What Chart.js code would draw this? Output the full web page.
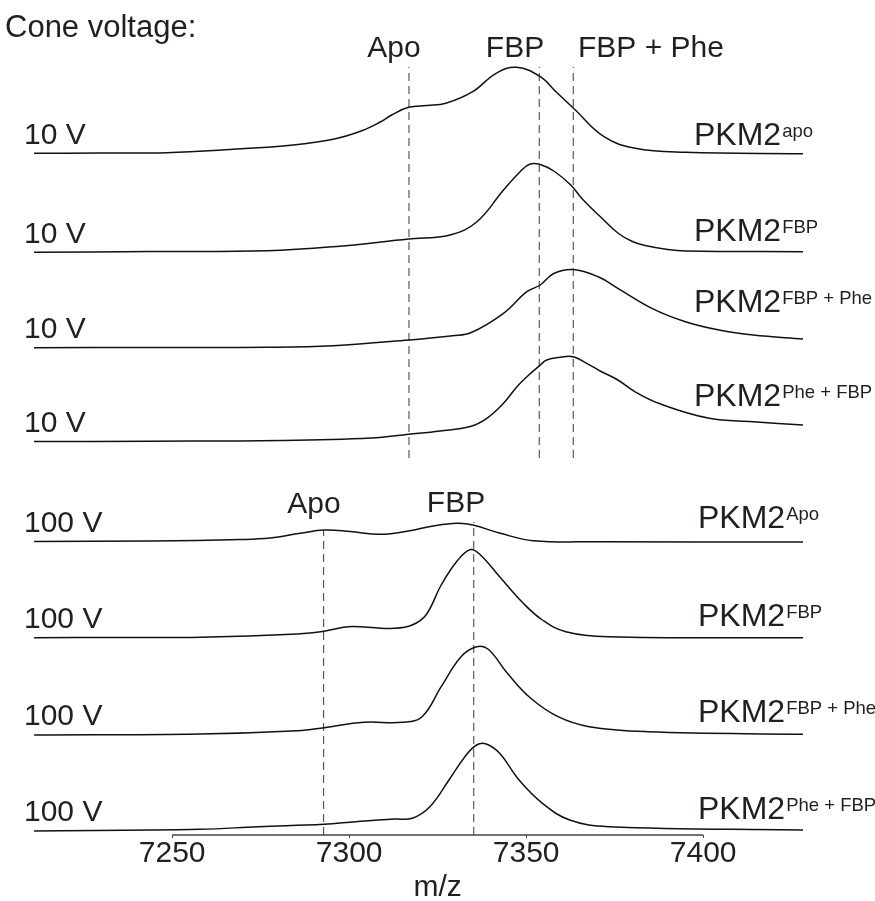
<!DOCTYPE html>
<html>
<head>
<meta charset="utf-8">
<title>PKM2 cone voltage spectra</title>
<script src="https://cdn.jsdelivr.net/npm/chart.js@4.4.1/dist/chart.umd.min.js"></script>
<style>
  html, body { margin: 0; padding: 0; background: #fff; }
  #wrap { width: 875px; height: 901px; position: relative; }
</style>
</head>
<body>
<div id="wrap"><canvas id="spectra"></canvas></div>
<script>
// m/z window and labelled ticks
var xMin = 7210.7, xMax = 7428.2;
var xTicks = [7250, 7300, 7350, 7400];

// 10 V spectra: m/z and relative intensity
var mzApo10 = [7211, 7229.7, 7248.5, 7266.4, 7284.2, 7295.8, 7303.4, 7308.8, 7312.0, 7316.8, 7322, 7327.3, 7334.9, 7341.5, 7347.3, 7354.0, 7358.5, 7363.6, 7372.0, 7380.8, 7394.9, 7428.2];
var intApo10 = [0.7, 1.0, 1.3, 4.5, 9, 15, 23, 32, 39, 46.7, 48.5, 50.7, 62.3, 80.7, 86.7, 77.3, 62, 45, 17.3, 5.7, 1.7, 0.3];

var mzFbp10 = [7211, 7243.8, 7276.8, 7295.5, 7316.8, 7328.5, 7336.1, 7343.6, 7348.3, 7351.1, 7354.0, 7358.0, 7362.6, 7366.0, 7370.9, 7375.9, 7380.0, 7383.6, 7390.0, 7395.0, 7428.2];
var intFbp10 = [0.2, 1, 1.8, 5.8, 13.5, 17.5, 30.8, 62.5, 80.8, 88.5, 88, 81, 67.5, 53, 36, 19.5, 11, 7, 3, 1.5, 0.8];

var mzFbpPhe10 = [7211, 7243.8, 7276.8, 7295.5, 7316.8, 7329.2, 7334.5, 7343.6, 7350.2, 7354.0, 7357.8, 7363.3, 7370.5, 7375.9, 7385.5, 7395.0, 7404.5, 7414.1, 7428.2];
var intFbpPhe10 = [0.3, 0.5, 0.7, 2.3, 8, 12.3, 15.5, 34.7, 56.3, 63, 74.5, 78.5, 71, 59.7, 39.7, 26.3, 18, 13, 9];

var mzPheFbp10 = [7211, 7243.8, 7280.5, 7306.2, 7316.8, 7325.7, 7334.2, 7338.9, 7343.6, 7347.4, 7350.2, 7354.0, 7355.8, 7359.6, 7363.3, 7367.1, 7370.9, 7375.9, 7380.7, 7387.4, 7401.7, 7414.1, 7428.2];
var intPheFbp10 = [0.5, 0.8, 1.5, 4, 7.7, 11, 15.5, 23.7, 38.7, 55.3, 65.3, 77, 82, 84.7, 85.3, 78.7, 71, 62, 50.3, 38.7, 23.7, 20.3, 17];

// 100 V spectra
var mzApo100 = [7211, 7243.8, 7269.2, 7277.7, 7286.2, 7292.9, 7300.3, 7308.8, 7317.2, 7323.7, 7330.5, 7335.0, 7342.7, 7352.0, 7370.9, 7428.2];
var intApo100 = [0.5, 1, 2.5, 4, 8.7, 12, 10.5, 7.7, 11.3, 16, 18.7, 17, 8.7, 1.3, 0.3, 0];

var mzFbp100 = [7211, 7235.3, 7257.9, 7285.4, 7292.9, 7299.7, 7305.2, 7312.9, 7317.8, 7321.7, 7326.0, 7330.5, 7334.3, 7337.1, 7342.5, 7349.2, 7354.6, 7361.2, 7373.3, 7428.2];
var intFbp100 = [0.3, 0.5, 0.7, 4, 6.7, 11.3, 10.7, 9.7, 13, 23, 53, 77, 88.5, 83, 61.3, 34.7, 18, 6.3, 1.3, 0.3];

var mzFbpPhe100 = [7211, 7257.9, 7285.4, 7292.9, 7304.1, 7315.1, 7320.6, 7326.0, 7331.6, 7336.0, 7339.3, 7344.7, 7351.3, 7359.0, 7367.8, 7384.3, 7428.2];
var intFbpPhe100 = [0, 1, 4.3, 7.3, 12.7, 12.7, 18.3, 48.3, 78.3, 88.3, 85.7, 61.7, 36.7, 18.3, 8.3, 3.3, 0.7];

var mzPheFbp100 = [7211, 7257.9, 7274.4, 7292.9, 7301.9, 7312.9, 7317.8, 7322.8, 7328.2, 7332.7, 7336.0, 7338.7, 7342.5, 7348.0, 7354.6, 7362.3, 7373.3, 7428.2];
var intPheFbp100 = [0, 1.7, 4.3, 6.7, 9.3, 12, 12.7, 24.3, 51, 74.3, 86, 87, 77.7, 51, 27.7, 11, 4.3, 1];

// trace order, top to bottom, and the intensity offset each one is stacked at
var traceMz = [mzApo10, mzFbp10, mzFbpPhe10, mzPheFbp10, mzApo100, mzFbp100, mzFbpPhe100, mzPheFbp100];
var traceInt = [intApo10, intFbp10, intFbpPhe10, intPheFbp10, intApo100, intFbp100, intFbpPhe100, intPheFbp100];
var stackOffset = [681, 582.5, 487, 393, 293, 197, 100, 4];
var coneVoltage = ['10 V', '10 V', '10 V', '10 V', '100 V', '100 V', '100 V', '100 V'];
var sampleName = ['PKM2', 'PKM2', 'PKM2', 'PKM2', 'PKM2', 'PKM2', 'PKM2', 'PKM2'];
var sampleSup = ['apo', 'FBP', 'FBP + Phe', 'Phe + FBP', 'Apo', 'FBP', 'FBP + Phe', 'Phe + FBP'];

// expected species masses marked with dashed guides
var guideMz10 = [7316.9, 7353.7, 7363.3];
var guideName10 = ['Apo', 'FBP', 'FBP + Phe'];
var guideMz100 = [7292.8, 7335.2];
var guideName100 = ['Apo', 'FBP'];
var guideSpan10 = [377, 768];
var guideTop100 = [305, 313];

var ink = '#231f20';
var fontFamily = '"Liberation Sans", Arial, Helvetica, sans-serif';

function toPoints(mz, inten, offset) {
  return mz.map(function (m, k) {
    return {x: m, y: offset + inten[k]};
  });
}

var datasets = [];

traceMz.forEach(function (mz, i) {
  datasets.push({
    data: toPoints(mz, traceInt[i], stackOffset[i]),
    borderColor: '#111',
    borderWidth: 1.5,
    pointRadius: 0,
    tension: 0.4,
    clip: false
  });
});

guideMz10.forEach(function (m) {
  datasets.push({
    data: [{x: m, y: guideSpan10[0]}, {x: m, y: guideSpan10[1]}],
    borderColor: '#3a3a3a',
    borderWidth: 1,
    borderDash: [8, 5],
    pointRadius: 0,
    clip: false
  });
});

guideMz100.forEach(function (m, i) {
  datasets.push({
    data: [{x: m, y: 0}, {x: m, y: guideTop100[i]}],
    borderColor: '#3a3a3a',
    borderWidth: 1,
    borderDash: [8, 5],
    pointRadius: 0,
    clip: false
  });
});

// m/z axis baseline, only across the labelled range
datasets.push({
  data: [{x: xTicks[0], y: 0}, {x: xTicks[xTicks.length - 1], y: 0}],
  borderColor: '#444',
  borderWidth: 1.4,
  pointRadius: 0,
  clip: false
});

function drawSup(ctx, x, y, main, sup) {
  ctx.font = '32px ' + fontFamily;
  ctx.fillText(main, x, y);
  var w = ctx.measureText(main).width;
  ctx.font = '18.5px ' + fontFamily;
  ctx.fillText(sup, x + w + 1, y - 8);
}

var labelPlugin = {
  id: 'spectraLabels',
  afterDraw: function (chart) {
    var ctx = chart.ctx;
    var xs = chart.scales.x, ys = chart.scales.y;
    var nameRaise = [9, 12, 36, 36, 14, 12, 13, 12];
    ctx.save();
    ctx.fillStyle = ink;
    ctx.textBaseline = 'alphabetic';
    ctx.textAlign = 'left';

    ctx.font = '31px ' + fontFamily;
    ctx.fillText('Cone voltage:', 5, 37);

    // voltage on the left, sample on the right of each trace
    for (var i = 0; i < stackOffset.length; i++) {
      var base = ys.getPixelForValue(stackOffset[i]);
      ctx.font = '30px ' + fontFamily;
      ctx.fillText(coneVoltage[i], 24, base - 10);
      drawSup(ctx, i < 4 ? 694 : 698, base - nameRaise[i], sampleName[i], sampleSup[i]);
    }

    // species names above the guides
    ctx.font = '30px ' + fontFamily;
    ctx.textAlign = 'center';
    ctx.fillText(guideName10[0], 394, 57);
    ctx.fillText(guideName10[1], 515, 57);
    ctx.textAlign = 'left';
    ctx.fillText(guideName10[2], 578, 57);
    ctx.textAlign = 'center';
    ctx.fillText(guideName100[0], 314, 513);
    ctx.fillText(guideName100[1], 456, 512);

    // axis title
    ctx.fillText('m/z', xs.getPixelForValue((xTicks[0] + xTicks[xTicks.length - 1]) / 2), 896);
    ctx.restore();
  }
};

new Chart(document.getElementById('spectra'), {
  type: 'line',
  data: {datasets: datasets},
  options: {
    responsive: true,
    maintainAspectRatio: false,
    animation: false,
    events: [],
    layout: {padding: {left: 33, right: 72, top: 0, bottom: 31}},
    plugins: {legend: {display: false}, tooltip: {enabled: false}},
    scales: {
      x: {
        type: 'linear',
        min: xMin,
        max: xMax,
        border: {display: false},
        grid: {display: true, drawOnChartArea: false, drawTicks: true, tickLength: 3, color: '#444'},
        afterBuildTicks: function (scale) {
          scale.ticks = xTicks.map(function (v) { return {value: v}; });
        },
        ticks: {
          color: ink,
          padding: 1,
          maxRotation: 0,
          autoSkip: false,
          font: {family: fontFamily, size: 30, lineHeight: 1},
          callback: function (v) { return String(v); }
        }
      },
      y: {
        type: 'linear',
        display: false,
        min: 0,
        max: 835
      }
    }
  },
  plugins: [labelPlugin]
});
</script>
</body>
</html>
